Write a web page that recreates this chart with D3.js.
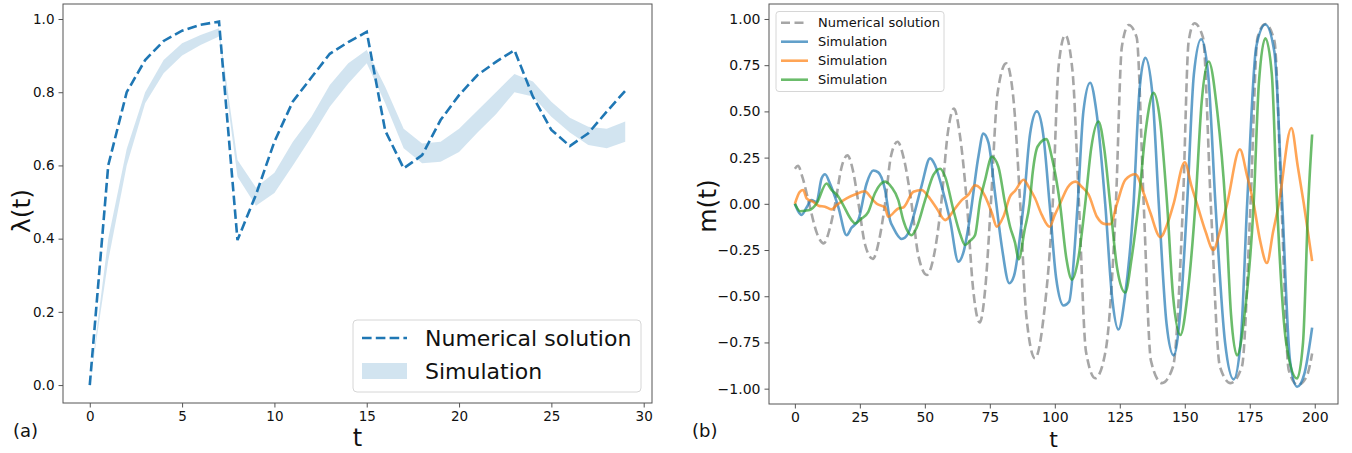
<!DOCTYPE html>
<html>
<head>
<meta charset="utf-8">
<script src="https://cdn.jsdelivr.net/npm/d3@7"></script>
<style>
  body { margin: 0; background: #fff; }
  svg { display: block; }
  text { font-family: "DejaVu Sans", sans-serif; fill: #111; }
</style>
</head>
<body>
<svg id="fig" width="1352" height="453"></svg>
<script>
// ---------- panel (a): lambda(t) ----------
const lamT = [0,1,2,3,4,5,6,7,8,9,10,11,12,13,14,15,16,17,18,19,20,21,22,23,24,25,26,27,28,29];
const lamNumerical = [0.00,0.60,0.80,0.888,0.94,0.968,0.984,0.993,0.396,0.52,0.665,0.775,0.84,0.905,0.937,0.965,
                      0.695,0.592,0.628,0.724,0.792,0.847,0.883,0.915,0.788,0.697,0.653,0.688,0.747,0.804];
const lamSimLow  = [0.00,0.34,0.60,0.77,0.852,0.90,0.929,0.952,0.569,0.49,0.525,0.60,0.678,0.76,0.824,0.879,
                    0.77,0.647,0.606,0.61,0.637,0.69,0.74,0.80,0.788,0.733,0.69,0.656,0.647,0.665];
const lamSimHigh = [0.00,0.40,0.645,0.80,0.888,0.934,0.956,0.975,0.615,0.54,0.58,0.665,0.732,0.82,0.879,0.915,
                    0.815,0.70,0.66,0.665,0.70,0.75,0.80,0.85,0.829,0.774,0.73,0.706,0.70,0.72];
const xTicksA = [0,5,10,15,20,25,30];
const yTicksA = [0.0,0.2,0.4,0.6,0.8,1.0];

// ---------- panel (b): m(t) ----------
const numT = [0,1.2,3,5.5,8.5,11.1,13.5,15.5,18,20.2,22.5,24.5,27,30,32.5,34.7,37,39.5,42,44.9,47.5,50.8,53.5,56.3,
  58.8,61.2,63.5,66.2,68.5,71.1,73.3,75.4,78,81.3,84,86.7,89,92.4,95.8,99.2,101.5,104,106.8,109.3,112,115.6,119.5,
  123.5,125.8,128.4,131.5,134.2,137,141.2,145.5,149.3,151.5,153.7,157,160,163.5,167.6,172,175.3,178,181,184.5,187.2,
  190,193.5,197,199];
const numM = [0.19,0.205,0.14,0.0,-0.16,-0.214,-0.13,0.0,0.2,0.262,0.17,0.0,-0.22,-0.298,-0.19,0.0,0.26,0.336,0.24,0.0,
  -0.28,-0.385,-0.28,0.0,0.38,0.515,0.37,0.0,-0.45,-0.642,-0.45,0.0,0.6,0.76,0.58,0.0,-0.6,-0.836,-0.6,0.0,0.75,0.913,
  0.72,0.0,-0.8,-0.944,-0.8,0.0,0.85,0.967,0.9,0.0,-0.85,-0.97,-0.88,0.0,0.88,0.977,0.9,0.0,-0.88,-0.97,-0.88,0.0,
  0.9,0.973,0.88,0.0,-0.9,-0.98,-0.93,-0.81];

const blueT = [0,2.6,4.5,6.4,8.3,10.3,11.6,13.5,16.7,19.9,21.8,24.4,27.6,30.2,32.1,34.7,36.6,37.9,41.1,43.6,45.6,48.8,
  52,53.9,56.5,59.7,62.9,64.9,67.4,70.6,72.5,74.5,77,79.6,82.5,84.3,88,90.5,93.1,95.5,98,100.5,103.4,105.5,108.8,111,
  113.6,116,119.4,122,124.5,127,130.3,132.5,134.8,137.5,140,143,145.7,148.2,150.9,153.5,156.3,159,161.8,165.5,168.8,
  171.5,174,177.5,181,184.5,187.5,190.5,193.2,196,199];
const blueM = [0,-0.06,-0.02,0.02,0.01,0.138,0.16,0.11,-0.016,-0.17,-0.13,-0.088,0.11,0.18,0.17,0.075,-0.088,-0.13,
  -0.19,-0.16,-0.07,0.10,0.246,0.21,0.093,-0.088,-0.313,-0.26,-0.07,0.255,0.38,0.33,0.057,-0.23,-0.43,-0.39,0.0,0.38,
  0.50,0.38,0.0,-0.4,-0.55,-0.53,0.0,0.5,0.655,0.5,0.0,-0.5,-0.68,-0.5,0.0,0.6,0.79,0.6,0.0,-0.65,-0.82,-0.6,0.0,0.7,
  0.89,0.7,0.0,-0.75,-0.95,-0.75,0.0,0.85,0.97,0.82,0.0,-0.85,-0.99,-0.92,-0.67];

const orangeT = [0,1.9,3.2,4.5,7.1,9.1,11.6,14.1,16.1,19.9,23.1,27,28.9,31.5,34.7,35.9,39.8,41.7,45.6,48.8,51.3,54.6,
  57.8,61.4,64.2,66.8,69.3,71.3,73.2,75.8,77.7,80.2,82.8,84.7,88,90,92.4,95,98,100,102,105,108,110.5,113,116.2,119.5,
  121.4,123.9,127.1,131,134.2,136.8,140.6,143.5,145.7,150,152.5,154.7,158,161,163.5,166.3,171.2,174,176.5,179,181.6,
  184,186.2,191,193.5,195.8,199];
const orangeM = [0,0.065,0.075,0.03,0.01,-0.01,-0.016,-0.03,-0.006,0.03,0.05,0.068,0.04,0.0,-0.02,-0.07,-0.025,-0.02,
  0.065,0.075,0.04,-0.025,-0.088,-0.03,0.02,0.05,0.10,0.085,0.04,-0.05,-0.124,-0.07,0.04,0.07,0.13,0.09,0.03,-0.06,
  -0.124,-0.06,0.0,0.09,0.12,0.09,0.05,-0.07,-0.11,-0.11,0.0,0.13,0.16,0.057,-0.05,-0.18,-0.1,0.0,0.225,0.1,0.0,-0.15,
  -0.25,-0.15,0.0,0.295,0.15,0.0,-0.2,-0.32,-0.15,0.0,0.41,0.2,0.0,-0.31];

const greenT = [0,2,5.7,8.3,12.2,14.1,16.7,18.6,21.8,23.1,25.7,28.2,30.8,34.7,37.2,39.8,41.7,44.9,46.8,50.1,53.3,55.9,
  57.8,61,63.5,65.5,67.4,69.3,71.3,73.2,75.8,78.3,80.9,82.8,84.7,86.1,88.4,90.3,91.5,93.4,96.7,98.9,102,104.5,106.6,
  109,111.7,114,116.8,119,121.3,124,127.1,129.5,132.2,135,138,140.5,143.2,145.5,148.3,151,154.1,156.5,159.2,162.5,
  165.6,167.8,170.1,173,176.5,178.5,181,183.5,185.5,189,193.2,195.5,197.5,199];
const greenM = [0,-0.04,-0.034,0.0,0.11,0.075,0.04,-0.007,-0.088,-0.106,-0.08,-0.045,0.057,0.12,0.09,0.02,-0.088,-0.17,
  -0.13,0.02,0.156,0.19,0.147,-0.034,-0.16,-0.223,-0.20,-0.17,0.02,0.13,0.255,0.20,0.0,-0.124,-0.21,-0.30,-0.14,0.0,
  0.17,0.31,0.35,0.25,0.0,-0.3,-0.41,-0.3,0.0,0.3,0.445,0.3,0.0,-0.35,-0.48,-0.3,0.0,0.4,0.60,0.45,0.0,-0.5,-0.71,-0.5,
  0.0,0.55,0.77,0.5,0.0,-0.6,-0.82,-0.6,0.0,0.65,0.895,0.7,0.0,-0.75,-0.945,-0.75,0.0,0.375];

const xTicksB = [0,25,50,75,100,125,150,175,200];
const yTicksB = [-1.0,-0.75,-0.5,-0.25,0.0,0.25,0.5,0.75,1.0];

const legendA = ["Numerical solution", "Simulation"];
const legendB = ["Numerical solution", "Simulation", "Simulation", "Simulation"];

// ---------- drawing ----------
const svg = d3.select("#fig");
svg.append("rect").attr("width", 1352).attr("height", 453).attr("fill", "#fff");

const tabBlue = "#1f77b4", tabOrange = "#ff7f0e", tabGreen = "#2ca02c", gray = "#808080";
const spine = "#555";

function styleAxis(g, size) {
  g.select(".domain").remove();
  g.selectAll(".tick line").attr("stroke", spine).attr("stroke-width", 1);
  g.selectAll(".tick text").attr("font-size", size).attr("fill", "#222")
    .attr("font-family", "DejaVu Sans, sans-serif");
}

// panel (a)
const A = { left: 63, right: 652, top: 4, bottom: 403 };
const xA = d3.scaleLinear().domain([-1.45, 30.45]).range([A.left, A.right]);
const yA = d3.scaleLinear().domain([-0.049, 1.041]).range([A.bottom, A.top]);
const gA = svg.append("g");

const bandData = lamT.map((t, i) => ({ t, lo: lamSimLow[i], hi: lamSimHigh[i] }));
gA.append("path").datum(bandData)
  .attr("d", d3.area().x(d => xA(d.t)).y0(d => yA(d.lo)).y1(d => yA(d.hi)))
  .attr("fill", tabBlue).attr("fill-opacity", 0.2);

gA.append("path").datum(lamT.map((t, i) => [t, lamNumerical[i]]))
  .attr("d", d3.line().x(d => xA(d[0])).y(d => yA(d[1])))
  .attr("fill", "none").attr("stroke", tabBlue).attr("stroke-width", 2.6)
  .attr("stroke-dasharray", "9.6,4.2");

gA.append("g").attr("transform", `translate(0,${A.bottom})`)
  .call(d3.axisBottom(xA).tickValues(xTicksA).tickSize(4.5).tickPadding(4).tickFormat(d3.format("d")))
  .call(g => styleAxis(g, 13.5));
gA.append("g").attr("transform", `translate(${A.left},0)`)
  .call(d3.axisLeft(yA).tickValues(yTicksA).tickSize(4.5).tickPadding(4).tickFormat(d3.format(".1f")))
  .call(g => styleAxis(g, 13.5));

gA.append("rect").attr("x", A.left).attr("y", A.top)
  .attr("width", A.right - A.left).attr("height", A.bottom - A.top)
  .attr("fill", "none").attr("stroke", spine).attr("stroke-width", 1);

gA.append("text").attr("x", (A.left + A.right) / 2).attr("y", 446)
  .attr("text-anchor", "middle").attr("font-size", 24).text("t");
gA.append("text").attr("transform", "translate(30,211) rotate(-90)")
  .attr("text-anchor", "middle").attr("font-size", 25).text("λ(t)");
gA.append("text").attr("x", 13).attr("y", 437).attr("font-size", 18).text("(a)");

// legend (a)
const legA = gA.append("g");
legA.append("rect").attr("x", 353).attr("y", 320).attr("width", 288).attr("height", 72)
  .attr("rx", 4).attr("fill", "#fff").attr("fill-opacity", 0.8)
  .attr("stroke", "#d6d6d6").attr("stroke-width", 1);
legA.append("line").attr("x1", 362).attr("x2", 407).attr("y1", 338).attr("y2", 338)
  .attr("stroke", tabBlue).attr("stroke-width", 2.6).attr("stroke-dasharray", "9.6,4.2");
legA.append("rect").attr("x", 362).attr("y", 363).attr("width", 45).attr("height", 16)
  .attr("fill", tabBlue).attr("fill-opacity", 0.2);
legendA.forEach((s, i) => {
  legA.append("text").attr("x", 425).attr("y", [338, 371.5][i]).attr("dy", "0.36em")
    .attr("font-size", 22).text(s);
});

// panel (b)
const B = { left: 769, right: 1338, top: 4, bottom: 404 };
const xB = d3.scaleLinear().domain([-9.95, 208.95]).range([B.left, B.right]);
const yB = d3.scaleLinear().domain([-1.083, 1.081]).range([B.bottom, B.top]);
const gB = svg.append("g");

const lineB = d3.line().x(d => xB(d[0])).y(d => yB(d[1])).curve(d3.curveMonotoneX);
const series = [
  { t: numT, m: numM, color: gray, dash: "9,4.5", op: 0.7 },
  { t: blueT, m: blueM, color: tabBlue, dash: null, op: 0.7 },
  { t: orangeT, m: orangeM, color: tabOrange, dash: null, op: 0.7 },
  { t: greenT, m: greenM, color: tabGreen, dash: null, op: 0.7 }
];
series.forEach(s => {
  gB.append("path").datum(s.t.map((t, i) => [t, s.m[i]]))
    .attr("d", lineB).attr("fill", "none").attr("stroke", s.color)
    .attr("stroke-opacity", s.op).attr("stroke-width", 2.6)
    .attr("stroke-linejoin", "round")
    .attr("stroke-dasharray", s.dash);
});

gB.append("g").attr("transform", `translate(0,${B.bottom})`)
  .call(d3.axisBottom(xB).tickValues(xTicksB).tickSize(4.5).tickPadding(4).tickFormat(d3.format("d")))
  .call(g => styleAxis(g, 14));
gB.append("g").attr("transform", `translate(${B.left},0)`)
  .call(d3.axisLeft(yB).tickValues(yTicksB).tickSize(4.5).tickPadding(4).tickFormat(d3.format(".2f")))
  .call(g => styleAxis(g, 14));

gB.append("rect").attr("x", B.left).attr("y", B.top)
  .attr("width", B.right - B.left).attr("height", B.bottom - B.top)
  .attr("fill", "none").attr("stroke", spine).attr("stroke-width", 1);

gB.append("text").attr("x", (B.left + B.right) / 2).attr("y", 447)
  .attr("text-anchor", "middle").attr("font-size", 22).text("t");
gB.append("text").attr("transform", "translate(716,206) rotate(-90)")
  .attr("text-anchor", "middle").attr("font-size", 25).text("m(t)");
gB.append("text").attr("x", 692).attr("y", 437).attr("font-size", 18).text("(b)");

// legend (b)
const legB = gB.append("g");
legB.append("rect").attr("x", 776).attr("y", 11.5).attr("width", 168).attr("height", 80)
  .attr("rx", 3).attr("fill", "#fff").attr("fill-opacity", 0.8)
  .attr("stroke", "#d6d6d6").attr("stroke-width", 1);
legendB.forEach((s, i) => {
  const y = 22.7 + i * 19;
  const ser = series[i];
  legB.append("line").attr("x1", 781).attr("x2", 808).attr("y1", y).attr("y2", y)
    .attr("stroke", ser.color).attr("stroke-opacity", ser.op).attr("stroke-width", 2.6)
    .attr("stroke-dasharray", ser.dash);
  legB.append("text").attr("x", 818).attr("y", y).attr("dy", "0.36em")
    .attr("font-size", 13).text(s);
});
</script>
</body>
</html>
